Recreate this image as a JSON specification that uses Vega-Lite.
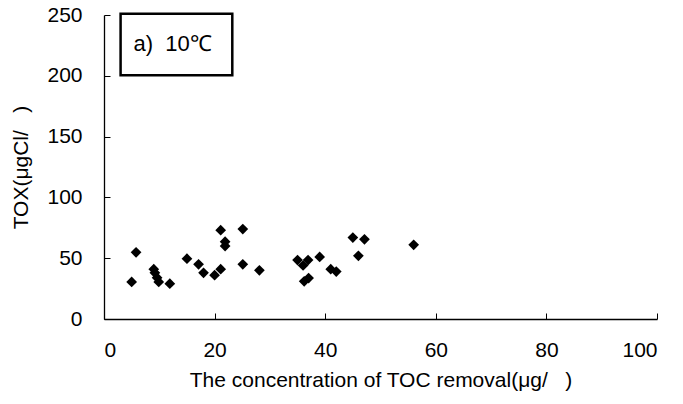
{
  "$schema": "https://vega.github.io/schema/vega-lite/v6.json",
  "width": 553,
  "height": 304,
  "autosize": {"type": "none"},
  "padding": {"left": 104, "top": 15, "right": 26, "bottom": 85},
  "config": {
    "view": {"stroke": null},
    "font": "Liberation Sans",
    "axis": {
      "grid": false,
      "domainColor": "#000000",
      "domainWidth": 1.3,
      "tickColor": "#000000",
      "tickWidth": 1,
      "labelColor": "#000000",
      "titleColor": "#000000",
      "labelFont": "Liberation Sans",
      "titleFont": "Liberation Sans",
      "labelFontSize": 21,
      "titleFontSize": 21,
      "titleFontWeight": "normal"
    }
  },
  "datasets": {
    "points": [
      {"toc": 5.0, "tox": 30.5},
      {"toc": 5.8, "tox": 54.8},
      {"toc": 9.0, "tox": 41},
      {"toc": 9.2, "tox": 38},
      {"toc": 9.6, "tox": 34},
      {"toc": 9.9, "tox": 30.5},
      {"toc": 11.9, "tox": 29},
      {"toc": 15.0, "tox": 49.6},
      {"toc": 17.1, "tox": 45},
      {"toc": 18.0, "tox": 38},
      {"toc": 20.0, "tox": 36},
      {"toc": 21.1, "tox": 41},
      {"toc": 21.1, "tox": 73},
      {"toc": 21.9, "tox": 63.6},
      {"toc": 21.9, "tox": 60},
      {"toc": 25.1, "tox": 74},
      {"toc": 25.1, "tox": 45},
      {"toc": 28.1, "tox": 40},
      {"toc": 35.0, "tox": 48.5},
      {"toc": 36.9, "tox": 48.5},
      {"toc": 36.0, "tox": 44},
      {"toc": 39.0, "tox": 51},
      {"toc": 41.0, "tox": 41},
      {"toc": 42.0, "tox": 39},
      {"toc": 36.2, "tox": 31},
      {"toc": 37.0, "tox": 33.7},
      {"toc": 45.0, "tox": 67},
      {"toc": 47.1, "tox": 65.5},
      {"toc": 46.0, "tox": 52},
      {"toc": 56.0, "tox": 61}
    ],
    "note": [
      {"x1": 3, "x2": 23.2, "y1": 200.5, "y2": 251, "tx": 12.4, "ty": 226, "label": "a)\u00a0\u00a010℃"}
    ]
  },
  "layer": [
    {
      "data": {"name": "points"},
      "mark": {"type": "point", "shape": "diamond", "filled": true, "color": "#000000", "size": 115, "opacity": 1},
      "encoding": {
        "x": {
          "field": "toc", "type": "quantitative",
          "scale": {"domain": [0, 100], "nice": false},
          "axis": {"values": [0, 20, 40, 60, 80, 100], "tickSize": -6, "labelPadding": 26, "title": "The concentration of TOC removal(μg/\u00a0\u00a0\u00a0)", "titlePadding": 9}
        },
        "y": {
          "field": "tox", "type": "quantitative",
          "scale": {"domain": [0, 250], "nice": false},
          "axis": {"values": [0, 50, 100, 150, 200, 250], "tickSize": -6, "labelPadding": 28, "title": "TOX(μgCl/\u00a0\u00a0\u00a0)", "titlePadding": 15}
        }
      }
    },
    {
      "data": {"name": "note"},
      "mark": {"type": "rect", "fill": "#ffffff", "stroke": "#000000", "strokeWidth": 2.5},
      "encoding": {
        "x": {"field": "x1", "type": "quantitative"},
        "x2": {"field": "x2"},
        "y": {"field": "y1", "type": "quantitative"},
        "y2": {"field": "y2"}
      }
    },
    {
      "data": {"name": "note"},
      "mark": {"type": "text", "font": "Liberation Sans", "fontSize": 22, "color": "#000000", "align": "center", "baseline": "middle"},
      "encoding": {
        "x": {"field": "tx", "type": "quantitative"},
        "y": {"field": "ty", "type": "quantitative"},
        "text": {"field": "label"}
      }
    }
  ]
}
